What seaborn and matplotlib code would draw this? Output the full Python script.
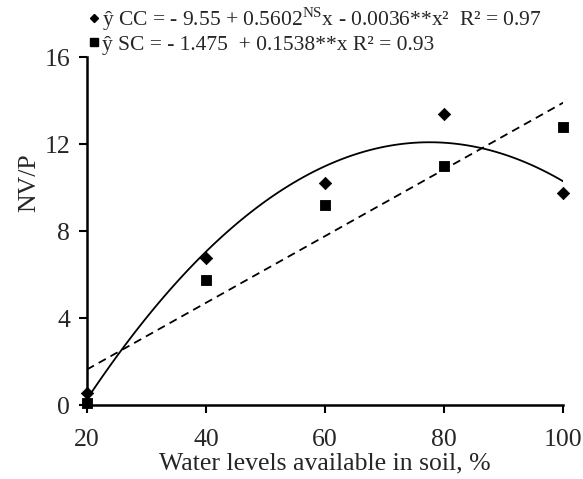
import numpy as np
import pandas as pd
import matplotlib
matplotlib.use("Agg")
import matplotlib.pyplot as plt
from matplotlib.lines import Line2D
import seaborn as sns

# Data
water_levels = [20, 40, 60, 80, 100]
cc_values = [0.55, 6.76, 10.2, 13.4, 9.75]
sc_values = [0.1, 5.75, 9.2, 11.0, 12.8]
x_ticks = [20, 40, 60, 80, 100]
y_ticks = [0, 4, 8, 12, 16]
cc_label = r"ŷ CC = - 9.55 + 0.5602$^{\mathrm{NS}}$x - 0.0036**x²  R² = 0.97"
sc_label = "ŷ SC = - 1.475  + 0.1538**x R² = 0.93"

sns.set_theme(style="ticks")
plt.rcParams["font.family"] = ["Liberation Serif", "DejaVu Serif"]
plt.rcParams["mathtext.fontset"] = "custom"
plt.rcParams["mathtext.rm"] = "Liberation Serif"

df = pd.DataFrame({"x": water_levels, "CC": cc_values, "SC": sc_values})

fig = plt.figure(figsize=(5.83, 4.79), dpi=100)
ax = fig.add_axes([0.149, 0.154, 0.817, 0.727])

sns.regplot(data=df, x="x", y="CC", order=2, ci=None, scatter=False, ax=ax,
            line_kws=dict(color="black", lw=1.3))
sns.regplot(data=df, x="x", y="SC", order=1, ci=None, scatter=False, ax=ax,
            line_kws=dict(color="black", lw=1.3, linestyle=(0, (4.5, 3))))
sns.scatterplot(data=df, x="x", y="CC", marker="D", s=40, color="black",
                edgecolor="black", ax=ax, zorder=5, clip_on=False)
sns.scatterplot(data=df, x="x", y="SC", marker="s", s=60, color="black",
                edgecolor="black", ax=ax, zorder=5, clip_on=False)

ax.set_xlim(20, 100)
ax.set_ylim(0, 16)
ax.set_xticks(x_ticks)
ax.set_yticks(y_ticks)
ax.tick_params(axis="both", labelsize=18.5, length=6, width=1.5, color="black",
               direction="out")
ax.tick_params(axis="x", pad=11)
ax.tick_params(axis="y", pad=6)
for s in ["left", "bottom"]:
    ax.spines[s].set_linewidth(1.8)
    ax.spines[s].set_color("black")
sns.despine(ax=ax)
ax.set_xlabel("Water levels available in soil, %", fontsize=18.5, labelpad=1.5)
ax.set_ylabel("NV/P", fontsize=18.5, labelpad=4)
ax.yaxis.set_label_coords(-0.097, 0.64)

handles = [
    Line2D([], [], marker="D", color="black", linestyle="none", markersize=4),
    Line2D([], [], marker="s", color="black", linestyle="none", markersize=6),
]
fig.legend(handles, [cc_label, sc_label], loc="upper left",
           bbox_to_anchor=(0.135, 1.012), frameon=False, fontsize=15.5,
           handlelength=0.4, handletextpad=0.2, labelspacing=0.1,
           borderpad=0.0)

fig.savefig("out.png", dpi=100)
